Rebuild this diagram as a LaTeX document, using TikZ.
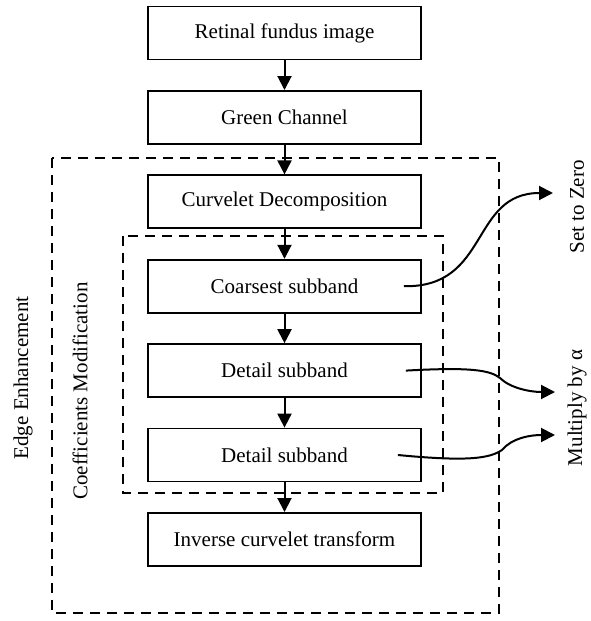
\documentclass[tikz,border=0pt]{standalone}
\usepackage{fontspec}
\setmainfont{Liberation Serif}
\usetikzlibrary{positioning,arrows.meta}

\begin{document}
\begin{tikzpicture}[x=1pt, y=1pt,
    box/.style={draw, line width=1.8pt, minimum width=273pt, minimum height=53pt,
        font=\fontsize{21}{25}\selectfont},
    flow/.style={line width=2pt, -{Triangle[length=14pt,width=14pt]}},
    frame/.style={line width=1.8pt, dash pattern=on 10pt off 7pt},
    label/.style={rotate=90, font=\fontsize{21}{25}\selectfont},
    node distance=29.6pt]
    \useasboundingbox (0,0) rectangle (590,-621);

    % Boxes
    \node[box] (fundus) at (284.5,-33) {Retinal fundus image};
    \node[box, below=of fundus] (green) {Green Channel};
    \node[box, below=of green] (decomp) {Curvelet Decomposition};
    \node[box, below=of decomp] (coarse) {Coarsest subband};
    \node[box, below=of coarse] (detailA) {Detail subband};
    \node[box, below=of detailA] (detailB) {Detail subband};
    \node[box, below=of detailB] (inverse) {Inverse curvelet transform};

    % Dashed frames
    \draw[frame] (52,-158) rectangle (499,-613);
    \draw[frame] (123,-236) rectangle (443,-493);
    \node[label] (edge) at (23,-378) {Edge Enhancement};
    \node[label] (coeff) at (80,-391) {Coefficients Modification};

    % Flow
    \draw[flow] (fundus) -- (green);
    \draw[flow] (green) -- (decomp);
    \draw[flow] (decomp) -- (coarse);
    \draw[flow] (coarse) -- (detailA);
    \draw[flow] (detailA) -- (detailB);
    \draw[flow] (detailB) -- (inverse);

    % Modifications
    \coordinate (zero) at (553,-193);
    \coordinate (multA) at (555,-392);
    \coordinate (multB) at (555,-435);
    \node[label] (setzero) at (577,-207) {Set to Zero};
    \node[label] (multiply) at (577,-408) {Multiply by α};

    \draw[flow] ([xshift=-18pt]coarse.east)
        .. controls (490,-288) and (470,-193) .. (zero);
    \draw[flow] ([xshift=-16pt]detailA.east)
        .. controls (470,-367) and (490,-370) .. (500,-378)
        .. controls (510,-388) and (530,-392) .. (multA);
    \draw[flow] ([xshift=-24pt]detailB.east)
        .. controls (470,-462) and (490,-458) .. (502,-450)
        .. controls (512,-438) and (530,-435) .. (multB);
\end{tikzpicture}
\end{document}
